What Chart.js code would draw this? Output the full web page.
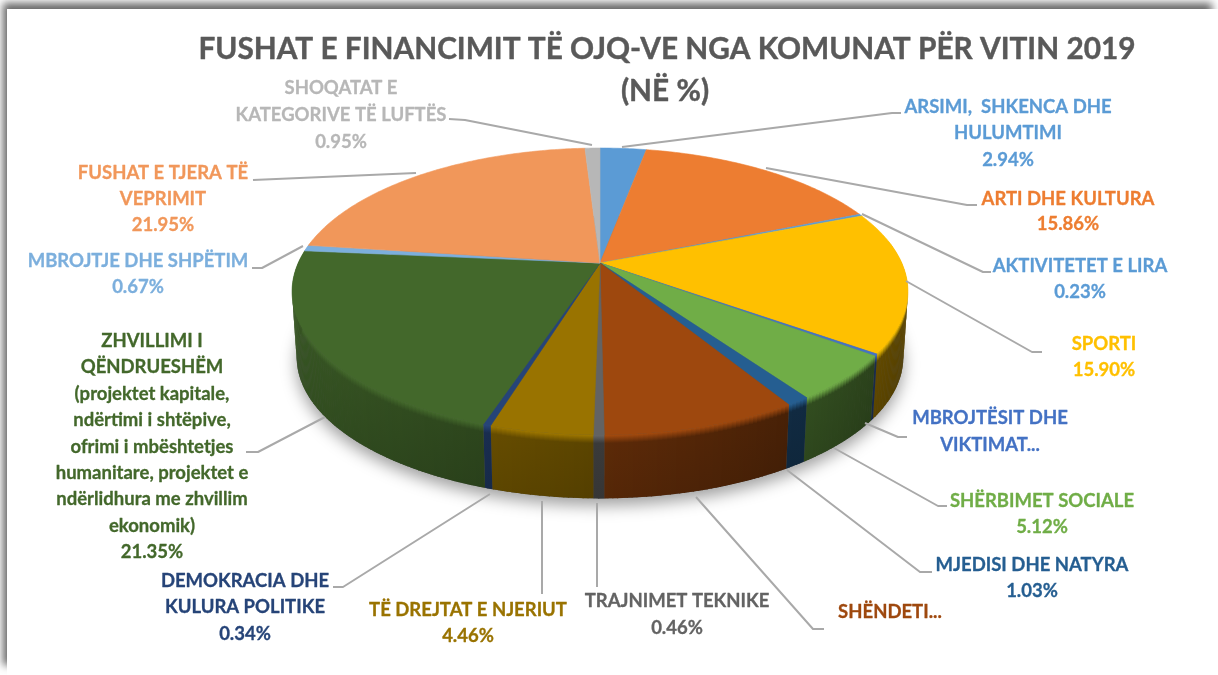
<!DOCTYPE html>
<html><head><meta charset="utf-8">
<script src="https://cdn.jsdelivr.net/npm/chart.js@4"></script>
<style>
html,body{margin:0;padding:0;width:1218px;height:675px;overflow:hidden;background:#fff}
#frame{position:absolute;left:7px;top:9px;width:1205px;height:658px;background:#fff;box-shadow:-2px -4px 8px 2px rgba(70,70,70,.82)}
.cover{position:absolute;background:#fff}
#c{position:absolute;left:0;top:0;filter:blur(.45px)}
</style></head><body>
<div id="frame"></div>
<div class="cover" style="left:1212px;top:9px;width:10px;height:670px"></div>
<div class="cover" style="left:7px;top:667px;width:1215px;height:10px"></div>
<canvas id="c" width="1218" height="675"></canvas>
<script>
const categories=["ARSIMI, SHKENCA DHE HULUMTIMI","ARTI DHE KULTURA","AKTIVITETET E LIRA","SPORTI","MBROJTËSIT DHE VIKTIMAT","SHËRBIMET SOCIALE","MJEDISI DHE NATYRA","SHËNDETI","TRAJNIMET TEKNIKE","TË DREJTAT E NJERIUT","DEMOKRACIA DHE KULTURA POLITIKE","ZHVILLIMI I QËNDRUESHËM","MBROJTJE DHE SHPËTIM","FUSHAT E TJERA TË VEPRIMIT","SHOQATAT E KATEGORIVE TË LUFTËS"];
const values=[2.94,15.86,0.23,15.90,0.22,5.12,1.03,8.52,0.46,4.46,0.34,21.35,0.67,21.95,0.95];
const colors=["#5B9BD5","#ED7D31","#5B9BD5","#FFC000","#4472C4","#70AD47","#255E91","#9E480E","#636363","#997300","#264478","#43682B","#7CAFDD","#F1975A","#B7B7B7"];
const labelLines=[["ARSIMI,  SHKENCA DHE","HULUMTIMI","2.94%"],["ARTI DHE KULTURA","15.86%"],["AKTIVITETET E LIRA","0.23%"],["SPORTI","15.90%"],["MBROJTËSIT DHE","VIKTIMAT..."],["SHËRBIMET SOCIALE","5.12%"],["MJEDISI DHE NATYRA","1.03%"],["SHËNDETI..."],["TRAJNIMET TEKNIKE","0.46%"],["TË DREJTAT E NJERIUT","4.46%"],["DEMOKRACIA DHE","KULURA POLITIKE","0.34%"],["ZHVILLIMI I","QËNDRUESHËM","(projektet kapitale,","ndërtimi i shtëpive,","ofrimi i mbështetjes","humanitare, projektet e","ndërlidhura me zhvillim","ekonomik)","21.35%"],["MBROJTJE DHE SHPËTIM","0.67%"],["FUSHAT E TJERA TË","VEPRIMIT","21.95%"],["SHOQATAT E","KATEGORIVE TË LUFTËS","0.95%"]];
const titleLines=["FUSHAT E FINANCIMIT TË OJQ-VE NGA KOMUNAT PËR VITIN 2019","(NË %)"];

// layout only
const labelPos=[[1008,107],[1068,199],[1080,266],[1104,344],[990,418],[1042,501],[1032,565],[890,612],[677,601],[468,610],[245,581],[152,341],[138,261],[163,173],[341,88]];
const lineGap=[26.5,25.5,26,26,27,26,26,0,27,26,26.5,26.4,26,26,27];
const leaders=[[[622,147],[892,113],[901,113]],[[766,168],[967,205],[977,205]],[[862,214],[983,272],[991,272]],[[906,281],[1032,352],[1042,352]],[[865,423],[898,437],[907,437]],[[834,448],[938,506],[947,506]],[[787,470],[920,572],[932,572]],[[696,497],[813,629],[824,629]],[[597,503],[597,587]],[[542,501],[542,594]],[[490,494],[343,587],[333,587]],[[325,417],[258,452],[246,452]],[[303,246],[262,268],[252,268]],[[416,173],[253,180]],[[592,145],[465,120],[449,119]]];
const P={cx:600,cy:263,rx:301.8,ry:137.8,k:0.1987,depth:64,bs:0.985};
const FONT='Lato, "Open Sans", sans-serif';

function proj(a,bottom){
  const u=Math.cos(a),v=Math.sin(a),w=1-P.k*v;
  let x=P.rx*u/w,y=P.ry*v/w;
  if(bottom){x*=P.bs;y=y*P.bs+P.depth+2;}
  return [P.cx+x,P.cy+y];
}
function shade(hex,f){
  const n=parseInt(hex.slice(1),16);
  const c=[n>>16,(n>>8)&255,n&255].map(q=>Math.min(255,Math.round(q*f)));
  return `rgb(${c[0]},${c[1]},${c[2]})`;
}
const pie3d={
  id:'pie3d',
  beforeDatasetDraw(chart){
    const ctx=chart.ctx,arcs=chart.getDatasetMeta(0).data,STEP=Math.PI/240;
    // ground shadow
    ctx.save();
    ctx.shadowColor='rgba(0,0,0,.38)';ctx.shadowBlur=16;ctx.shadowOffsetY=7;
    ctx.fillStyle='#555';ctx.beginPath();
    for(let a=0;a<Math.PI*2;a+=STEP*2){const p=proj(a,true);a?ctx.lineTo(p[0],p[1]):ctx.moveTo(p[0],p[1]);}
    ctx.closePath();ctx.fill();ctx.restore();
    // wall
    arcs.forEach((el,i)=>{
      for(let a=el.startAngle;a<el.endAngle;a+=STEP){
        const b=Math.min(a+STEP*1.25,el.endAngle);
        if(Math.sin(a)<-0.15&&Math.sin(b)<-0.15)continue;
        const p0=proj(a),p1=proj(b),q0=proj(a,true),q1=proj(b,true);
        const f=0.56-0.24*Math.cos(a);
        const g=ctx.createLinearGradient(0,Math.min(p0[1],p1[1]),0,Math.max(q0[1],q1[1]));
        g.addColorStop(0,shade(colors[i],1.05));
        g.addColorStop(.13,shade(colors[i],f*1.05));
        g.addColorStop(1,shade(colors[i],f*.97));
        ctx.fillStyle=g;ctx.beginPath();
        ctx.moveTo(p0[0],p0[1]);ctx.lineTo(p1[0],p1[1]);ctx.lineTo(q1[0],q1[1]);ctx.lineTo(q0[0],q0[1]);
        ctx.closePath();ctx.fill();
      }
    });
    // top face
    arcs.forEach((el,i)=>{
      ctx.beginPath();ctx.moveTo(P.cx,P.cy);
      for(let a=el.startAngle;a<el.endAngle;a+=STEP){const p=proj(a);ctx.lineTo(p[0],p[1]);}
      const e=proj(el.endAngle);ctx.lineTo(e[0],e[1]);ctx.closePath();
      ctx.fillStyle=colors[i];ctx.fill();
      ctx.strokeStyle=colors[i];ctx.lineWidth=.6;ctx.stroke();
    });
    return false;
  },
  afterDraw(chart){
    const ctx=chart.ctx;
    ctx.save();
    ctx.strokeStyle='#a9a9a9';ctx.lineWidth=2;ctx.lineJoin='round';
    leaders.forEach(pts=>{
      ctx.beginPath();pts.forEach((p,j)=>j?ctx.lineTo(p[0],p[1]):ctx.moveTo(p[0],p[1]));ctx.stroke();
    });
    ctx.textAlign='center';ctx.textBaseline='middle';
    ctx.fillStyle='#595959';ctx.strokeStyle='#595959';ctx.lineWidth=.4;ctx.font='700 29.8px '+FONT;
    ctx.fillText(titleLines[0],667,49);ctx.strokeText(titleLines[0],667,49);
    ctx.fillText(titleLines[1],665,91);ctx.strokeText(titleLines[1],665,91);
    ctx.font='700 18.5px '+FONT;ctx.lineWidth=.3;
    labelLines.forEach((lines,i)=>{
      ctx.fillStyle=colors[i];ctx.strokeStyle=colors[i];
      lines.forEach((t,j)=>{
        const y=labelPos[i][1]+j*lineGap[i];
        ctx.fillText(t,labelPos[i][0],y);ctx.strokeText(t,labelPos[i][0],y);
      });
    });
    ctx.restore();
  }
};
new Chart(document.getElementById('c'),{
  type:'pie',
  data:{labels:categories,datasets:[{data:values,backgroundColor:colors,borderWidth:0}]},
  options:{responsive:false,animation:false,plugins:{legend:{display:false},tooltip:{enabled:false}}},
  plugins:[pie3d]
});
</script>
</body></html>
